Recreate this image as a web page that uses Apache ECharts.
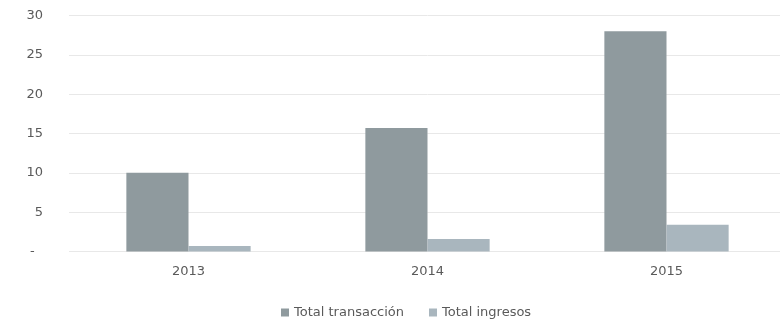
<!DOCTYPE html>
<html><head><meta charset="utf-8">
<script src="https://cdn.jsdelivr.net/npm/echarts@6/dist/echarts.min.js"></script>
<style>html,body{margin:0;padding:0;background:#fff;overflow:hidden;width:780px;height:321px}#c{width:792px;height:321px}</style>
</head><body><div id="c"></div>
<script>
const categories = ['2013', '2014', '2015'];
const seriesNames = ['Total transacción', 'Total ingresos'];
const totalTransaccion = [10, 15.7, 28.0];
const totalIngresos = [0.7, 1.6, 3.4];
const yTickLabels = {0: '-  ', 5: '5', 10: '10', 15: '15', 20: '20', 25: '25', 30: '30'};

const FONT = 'DejaVu Sans';
const chart = echarts.init(document.getElementById('c'));
chart.setOption({
  animation: false,
  textStyle: {fontFamily: FONT},
  grid: {left: 69, top: 15.5, width: 717, height: 236},
  legend: {
    top: 301, left: 276, itemWidth: 8, itemHeight: 8, itemGap: 25,
    icon: 'rect',
    textStyle: {color: '#5a5a5a', fontSize: 13, fontFamily: FONT},
    data: seriesNames
  },
  xAxis: {
    type: 'category', data: categories,
    axisLine: {show: false}, axisTick: {show: false},
    axisLabel: {color: '#5a5a5a', fontSize: 13, margin: 14}
  },
  yAxis: {
    type: 'value', min: 0, max: 30, interval: 5,
    axisLine: {show: false}, axisTick: {show: false},
    splitLine: {lineStyle: {color: '#e8e8e8', width: 1}},
    axisLabel: {color: '#5a5a5a', fontSize: 13, margin: 26, formatter: v => yTickLabels[v]}
  },
  series: [
    {name: seriesNames[0], type: 'bar', data: totalTransaccion, barGap: '0%', barCategoryGap: '48%',
     itemStyle: {color: '#8f9a9e'}},
    {name: seriesNames[1], type: 'bar', data: totalIngresos,
     itemStyle: {color: '#a9b6be'}}
  ]
});
</script></body></html>
